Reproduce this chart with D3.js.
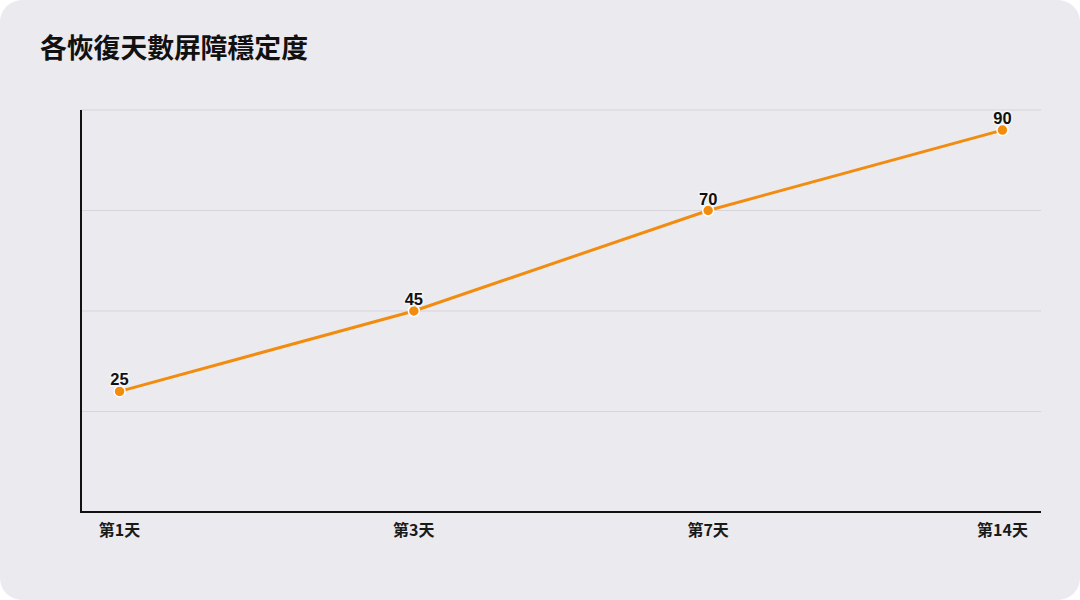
<!DOCTYPE html>
<html>
<head>
<meta charset="utf-8">
<script src="https://cdn.jsdelivr.net/npm/d3@7"></script>
<style>
  html, body { margin: 0; padding: 0; background: #ffffff; }
  svg { display: block; }
</style>
</head>
<body>
<script>
const days = ["第1天", "第3天", "第7天", "第14天"];
const stability = [25, 45, 70, 90];
const gridValues = [-5, 20, 45, 70, 95];
const title = "各恢復天數屏障穩定度";

const width = 1080;
const height = 600;
const margin = {top: 110, right: 39, bottom: 88, left: 81};

const svg = d3.select("body")
  .append("svg")
  .attr("width", width)
  .attr("height", height)
  .attr("viewBox", [0, 0, width, height]);

// card background
svg.append("rect")
  .attr("width", width)
  .attr("height", height)
  .attr("rx", 22)
  .attr("fill", "#ebeaef");

svg.append("text")
  .attr("x", 40)
  .attr("y", 58)
  .attr("font-family", "'Noto Sans CJK TC', 'Noto Sans CJK SC', sans-serif")
  .attr("font-size", 26.8)
  .attr("font-weight", 700)
  .attr("fill", "#111")
  .text(title);

const x = d3.scalePoint()
  .domain(days)
  .range([margin.left, width - margin.right])
  .padding(0.131);

const y = d3.scaleLinear()
  .domain([-5, 95])
  .range([height - margin.bottom, margin.top]);

const g = svg.append("g");

// horizontal gridlines
g.selectAll("line.grid")
  .data(gridValues.slice(1))
  .enter().append("line")
  .attr("class", "grid")
  .attr("x1", margin.left)
  .attr("x2", width - margin.right)
  .attr("y1", d => y(d))
  .attr("y2", d => y(d))
  .attr("stroke", "#d6d5da")
  .attr("stroke-width", 1);

// axes lines
g.append("line")
  .attr("x1", margin.left).attr("x2", margin.left)
  .attr("y1", margin.top).attr("y2", y(-5))
  .attr("stroke", "#111").attr("stroke-width", 2);
g.append("line")
  .attr("x1", margin.left - 1).attr("x2", width - margin.right)
  .attr("y1", y(-5)).attr("y2", y(-5))
  .attr("stroke", "#111").attr("stroke-width", 2);

// x labels
g.selectAll("text.xlab")
  .data(days)
  .enter().append("text")
  .attr("class", "xlab")
  .attr("x", d => x(d))
  .attr("y", height - margin.bottom + 24)
  .attr("text-anchor", "middle")
  .attr("font-family", "'Noto Sans CJK TC', 'Noto Sans CJK SC', sans-serif")
  .attr("font-size", 16)
  .attr("font-weight", 700)
  .attr("fill", "#1a1a1a")
  .text(d => d);

const points = days.map((d, i) => ({day: d, value: stability[i]}));

const line = d3.line()
  .x(d => x(d.day))
  .y(d => y(d.value));

g.append("path")
  .datum(points)
  .attr("d", line)
  .attr("fill", "none")
  .attr("stroke", "#f28c0f")
  .attr("stroke-width", 3);

g.selectAll("circle")
  .data(points)
  .enter().append("circle")
  .attr("cx", d => x(d.day))
  .attr("cy", d => y(d.value))
  .attr("r", 5.5)
  .attr("fill", "#f28c0f")
  .attr("stroke", "#ffffff")
  .attr("stroke-width", 1.5);

g.selectAll("text.val")
  .data(points)
  .enter().append("text")
  .attr("class", "val")
  .attr("x", d => x(d.day))
  .attr("y", d => y(d.value) - 6)
  .attr("text-anchor", "middle")
  .attr("font-family", "'Liberation Sans', Arial, sans-serif")
  .attr("font-size", 16.5)
  .attr("font-weight", 700)
  .attr("fill", "#111")
  .attr("stroke", "#f4f4f6")
  .attr("stroke-width", 3)
  .attr("paint-order", "stroke")
  .text(d => d.value);
</script>
</body>
</html>
